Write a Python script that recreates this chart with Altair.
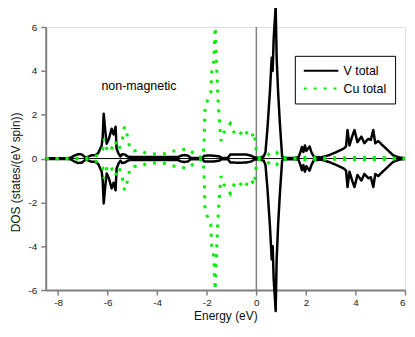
import altair as alt
import pandas as pd

series_names = ["V total", "Cu total"]
series_colors = ["#000000", "#00ee00"]

v_energy = [-8.5, -7.6, -7.48, -7.35, -7.2, -7.05, -6.95, -6.87, -6.8, -6.65, -6.5, -6.38,
            -6.3, -6.24, -6.2, -6.16, -6.1, -6.04, -5.95, -5.84, -5.76, -5.68, -5.64,
            -5.55, -5.48, -5.42, -5.3, -5.2, -5.1, -5.0, -4.5, -4.0, -3.5, -3.15,
            -3.05, -2.9, -2.75, -2.65, -2.4, -2.18, -2.1, -1.9, -1.7, -1.5, -1.4,
            -1.15, -1.05, -0.7, -0.4, -0.2, -0.08, 0.1, 0.3, 0.37, 0.45, 0.55, 0.62,
            0.66, 0.7, 0.74, 0.78, 0.82, 0.88, 0.95, 1.04, 1.1, 1.5, 1.7, 1.78, 1.84,
            1.9, 1.96, 2.02, 2.08, 2.15, 2.22, 2.32, 2.6, 2.92, 3.24, 3.52, 3.62,
            3.68, 3.76, 3.88, 3.96, 4.08, 4.24, 4.36, 4.52, 4.62, 4.72, 4.8, 4.92,
            5.05, 5.24, 5.52, 5.76, 6.0]
v_dos = [0.02, 0.02, 0.04, 0.13, 0.2, 0.19, 0.1, 0.04, 0.08, 0.15, 0.15, 0.25,
         0.45, 0.6, 1.0, 2.05, 1.3, 0.68, 0.9, 1.36, 1.1, 1.45, 0.45,
         0.2, 0.1, 0.2, 0.18, 0.1, 0.07, 0.07, 0.07, 0.07, 0.07, 0.07,
         0.13, 0.16, 0.13, 0.03, 0.03, 0.03, 0.13, 0.14, 0.13, 0.1, 0.03,
         0.03, 0.18, 0.19, 0.18, 0.13, 0.05, 0.03, 0.1, 0.3, 1.4, 3.1, 4.6,
         4.0, 5.5, 6.2, 6.95, 4.6, 3.0, 1.6, 0.1, 0.03, 0.03, 0.05, 0.3, 0.53,
         0.3, 0.6, 0.35, 0.45, 0.55, 0.3, 0.08, 0.05, 0.15, 0.3, 0.45, 0.55,
         1.3, 0.6, 1.05, 1.3, 0.75, 1.0, 0.7, 0.9, 0.85, 1.3, 0.7, 0.8,
         0.65, 0.45, 0.15, 0.05, 0.02]

cu_energy = [-8.5, -7.0, -6.6, -6.35, -6.2, -6.15, -6.0, -5.88, -5.7, -5.55, -5.42,
             -5.32, -5.22, -5.1, -4.95, -4.76, -4.4, -4.0, -3.7, -3.44, -3.1, -2.76,
             -2.6, -2.4, -2.15, -2.1, -2.07, -1.95, -1.84, -1.8, -1.72, -1.7, -1.66,
             -1.6, -1.56, -1.52, -1.47, -1.42, -1.3, -1.05, -0.85, -0.68, -0.48,
             -0.3, -0.22, -0.08, 0.0, 0.1, 0.4, 0.6, 0.8, 1.0, 1.5, 2.0, 3.0, 4.0,
             5.0, 6.0]
cu_dos = [0.0, 0.02, 0.05, 0.2, 0.4, 0.9, 0.3, 0.35, 0.8, 0.4, 0.8,
          1.45, 1.1, 0.45, 0.35, 0.37, 0.23, 0.2, 0.22, 0.32, 0.38, 0.45,
          0.3, 0.1, 0.05, 1.0, 2.4, 2.7, 3.0, 4.0, 4.45, 5.0, 6.0,
          4.1, 3.0, 2.2, 1.4, 0.8, 1.2, 1.6, 1.05, 1.1, 1.35,
          1.0, 0.95, 1.2, 0.3, 0.05, 0.1, 0.3, 0.3, 0.05, 0.02, 0.05, 0.03, 0.05,
          0.05, 0.0]

x_ticks = list(range(-8, 7))
y_ticks = list(range(-6, 7))

label_text = "non-magnetic"
label_energy = -6.25
label_dos = 3.3


def spin_table(energy, dos, name):
    rows = []
    for e, d in zip(energy, dos):
        rows.append({"E": e, "DOS": d, "series": name, "spin": "up"})
    for e, d in zip(energy, dos):
        rows.append({"E": e, "DOS": -d, "series": name, "spin": "down"})
    return pd.DataFrame(rows)


v_df = spin_table(v_energy, v_dos, "V total")
cu_df = spin_table(cu_energy, cu_dos, "Cu total")

FONT = "Liberation Sans"

x_scale = alt.Scale(domain=[-8.5, 6], nice=False, zero=False)
y_scale = alt.Scale(domain=[-6, 6], nice=False, zero=False)

tick_size = {"condition": {"test": "datum.value % 2 != 0", "value": 3}, "value": 5}

x_axis = alt.Axis(values=x_ticks, labelExpr="datum.value % 2 == 0 ? toString(datum.value) : ''",
                  title="Energy (eV)", grid=False, domainColor="#808080", domainWidth=2,
                  tickColor="#808080", tickWidth=1.5, tickSize=tick_size, labelFontSize=10,
                  labelColor="#222222", labelFont=FONT, labelPadding=3, titleFont=FONT,
                  titleFontSize=12, titleFontWeight="normal", titleColor="#111111",
                  titlePadding=3)
y_axis = alt.Axis(values=y_ticks, labelExpr="datum.value % 2 == 0 ? toString(datum.value) : ''",
                  title="DOS (states/(eV spin))", grid=False, domainColor="#808080",
                  domainWidth=2, tickColor="#808080", tickWidth=1.5, tickSize=tick_size,
                  labelFontSize=10, labelColor="#222222", labelFont=FONT, labelPadding=4,
                  titleFont=FONT, titleFontSize=12, titleFontWeight="normal",
                  titleColor="#111111", titleX=-30, titleY=146, titleAlign="center",
                  titleBaseline="middle")

legend = alt.Legend(title=None, orient="none", legendX=251, legendY=29, strokeColor="#000000",
                    fillColor="#ffffff", padding=8, symbolType="M-1,0L4.8,0", symbolSize=144,
                    symbolStrokeWidth=2, labelFontSize=12.5, labelFont=FONT,
                    labelColor="#000000", labelOffset=27, rowPadding=4, cornerRadius=0)

color_enc = alt.Color("series:N", scale=alt.Scale(domain=series_names, range=series_colors),
                      legend=legend)
dash_enc = alt.StrokeDash("series:N", scale=alt.Scale(domain=series_names,
                                                       range=[[1, 0], [3, 7]]),
                          legend=legend)

v_lines = alt.Chart(v_df).mark_line(strokeWidth=2.5, clip=False, strokeJoin="round").encode(
    x=alt.X("E:Q", scale=x_scale, axis=x_axis),
    y=alt.Y("DOS:Q", scale=y_scale, axis=y_axis),
    color=color_enc, strokeDash=dash_enc, detail="spin:N")

cu_lines = alt.Chart(cu_df).mark_line(strokeWidth=3, clip=False).encode(
    x=alt.X("E:Q"), y=alt.Y("DOS:Q"),
    color=color_enc, strokeDash=dash_enc, detail="spin:N")

vline = alt.Chart(pd.DataFrame({"E": [0]})).mark_rule(color="#808080", strokeWidth=1.5).encode(
    x="E:Q")
hline = alt.Chart(pd.DataFrame({"DOS": [0]})).mark_rule(color="#000000", strokeWidth=1).encode(
    y="DOS:Q")

label = alt.Chart(pd.DataFrame({"E": [label_energy], "DOS": [label_dos], "t": [label_text]})).mark_text(
    align="left", baseline="middle", font=FONT, fontSize=12.5, color="#000000").encode(
    x="E:Q", y="DOS:Q", text="t:N")

chart = alt.layer(vline, hline, v_lines, cu_lines, label).properties(
    width=362, height=265,
    autosize=alt.AutoSizeParams(type="none"),
    padding={"left": 38, "top": 18, "right": 2, "bottom": 33},
).configure_view(stroke="#808080", strokeWidth=1.5).configure(background="#ffffff")

chart.save("out.html", embed_options={"renderer": "svg", "actions": False})
